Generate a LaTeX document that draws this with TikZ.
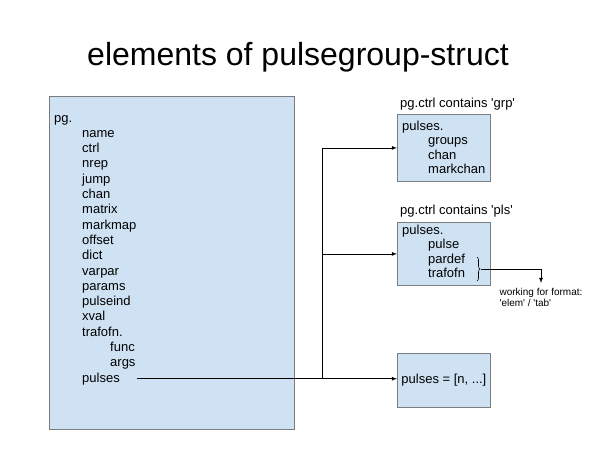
\documentclass[tikz,border=0pt]{standalone}
\usepackage{fontspec}
\setmainfont{Liberation Sans}
\usetikzlibrary{positioning,decorations.pathreplacing}
\definecolor{boxblue}{RGB}{207,226,243}
\definecolor{boxline}{RGB}{125,125,125}
\tikzset{box/.style={draw=boxline, fill=boxblue, line width=0.8pt, anchor=north west, inner sep=0pt},
field/.style={anchor=base west, inner sep=0pt, font=\fontsize{13}{15}\selectfont},
conn/.style={line width=0.8pt, -latex}
}
\newcommand{\sq}{\textquotesingle}

\begin{document}
\begin{tikzpicture}[x=1pt, y=-1pt]
        \useasboundingbox (0,0) rectangle (600,450);
        \node[anchor=base, font=\fontsize{32}{36}\selectfont] (title) at (298,65) {elements of pulsegroup-struct};

        % the pg struct
        \node[box, minimum width=245, minimum height=333] (pgbox) at (49,96) {};
        \node[field] (pg) at (54,122) {pg.};
        \foreach \f [count=\i] in {name,ctrl,nrep,jump,chan,matrix,markmap,offset,dict,varpar,params,pulseind,xval,trafofn.}
            \node[field] (f\i) at (82,{122+15.3*\i}) {\f};
        \node[field] (func)   at (110,351.5) {func};
        \node[field] (args)   at (110,366.8) {args};
        \node[field] (pulses) at (82,382.1)  {pulses};

        % pulses, case 'grp'
        \node[field] (grplbl) at (400,107) {pg.ctrl contains \sq grp\sq};
        \node[box, minimum width=93, minimum height=67] (grp) at (397,114) {};
        \node[field] (grphead) at (402,130) {pulses.};
        \foreach \f [count=\i] in {groups,chan,markchan}
            \node[field] (grp\i) at (428,{130+14.5*\i}) {\f};

        % pulses, case 'pls'
        \node[field] (plslbl) at (400,214) {pg.ctrl contains \sq pls\sq};
        \node[box, minimum width=93, minimum height=63] (pls) at (397,222) {};
        \node[field] (plshead) at (402,234) {pulses.};
        \foreach \f [count=\i] in {pulse,pardef,trafofn}
            \node[field] (pls\i) at (428,{234+14.5*\i}) {\f};

        % pulses as numbers
        \node[box, minimum width=93, minimum height=54, anchor=north west, font=\fontsize{13}{15}\selectfont] (val) at (397,353) {pulses = [n, ...]};

        \node[anchor=north, inner sep=0pt, align=left, font=\fontsize{10}{11.5}\selectfont] (note) at (541,288) {working for format:\\\sq elem\sq{} / \sq tab\sq};

        \coordinate (trunk) at (322,0);
        \coordinate (bracetip) at (481,269);

        \draw[conn] ([xshift=17pt]pulses.east) -- (val.west |- pulses.east);
        \draw[conn] (trunk |- pulses.east) |- (grp.west);
        \draw[conn] (trunk |- pls.west) -- (pls.west);
        \draw[line width=0.6pt, decorate, decoration={brace, amplitude=3pt}] (477,257) -- (477,281);
        \draw[conn] (bracetip) -| ([yshift=5pt]note.north);
      \end{tikzpicture}
\end{document}
